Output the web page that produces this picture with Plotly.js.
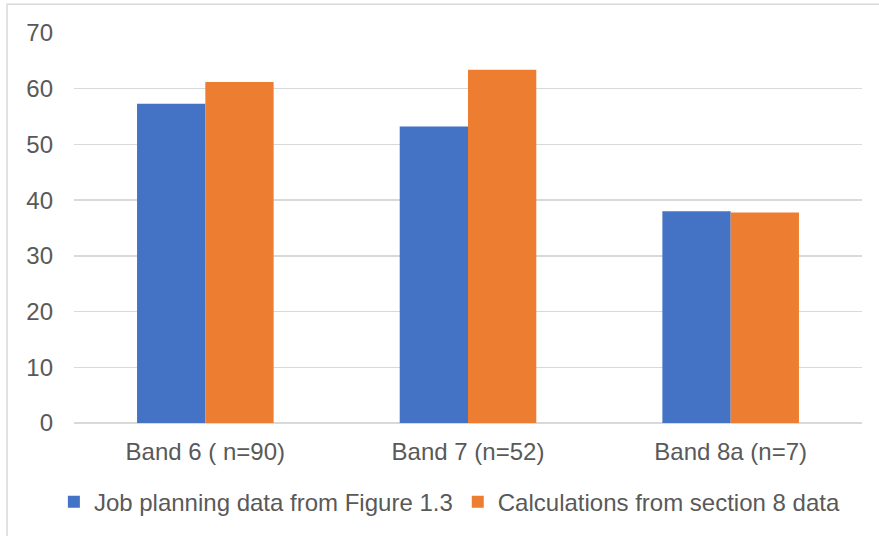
<!DOCTYPE html>
<html>
<head>
<meta charset="utf-8">
<script src="https://cdn.plot.ly/plotly-3.0.1.min.js"></script>
<style>html,body{margin:0;padding:0;background:#fff;}#chart{width:879px;height:536px;}</style>
</head>
<body>
<div id="chart"></div>
<script>
const categories = ["Band 6 ( n=90)", "Band 7 (n=52)", "Band 8a (n=7)"];
const seriesNames = ["Job planning data from Figure 1.3", "Calculations from section 8 data"];
const jobPlanning = [57.3, 53.2, 38.0];
const section8 = [61.2, 63.4, 37.8];
const yTicks = [0, 10, 20, 30, 40, 50, 60, 70];

const font = {family: "Liberation Sans, Arial, sans-serif", size: 24, color: "#595959"};

const traces = [
  {type: "bar", name: seriesNames[0], x: categories, y: jobPlanning, marker: {color: "#4472C4"}},
  {type: "bar", name: seriesNames[1], x: categories, y: section8, marker: {color: "#ED7D31"}}
];

const layout = {
  width: 879, height: 536,
  margin: {l: 74, r: 17, t: 33, b: 112},
  paper_bgcolor: "#fff", plot_bgcolor: "#fff",
  font: font,
  barmode: "group", bargap: 0.48, bargroupgap: 0,
  showlegend: true,
  legend: {orientation: "h", x: 0.477, xanchor: "center", y: -0.2, yanchor: "middle", font: font, itemwidth: 30, traceorder: "normal"},
  xaxis: {type: "category", showgrid: false, showline: false, zeroline: false, ticks: "", tickfont: font, ticklabelstandoff: 12, fixedrange: true},
  yaxis: {range: [0, 70], tickvals: yTicks, ticktext: yTicks.map(String), showgrid: true, gridcolor: "#d9d9d9", gridwidth: 1.5, zeroline: true, zerolinecolor: "#d9d9d9", zerolinewidth: 1.5, showline: false, ticks: "", tickfont: font, ticklabelstandoff: 20, fixedrange: true},
  shapes: [
    {type: "rect", xref: "paper", yref: "paper", x0: -0.085, x1: 1.05, y0: -0.35, y1: 1.074, line: {color: "#d9d9d9", width: 1.5}, fillcolor: "rgba(0,0,0,0)", layer: "below"}
  ]
};

Plotly.newPlot("chart", traces, layout, {displayModeBar: false, staticPlot: true});
</script>
</body>
</html>
